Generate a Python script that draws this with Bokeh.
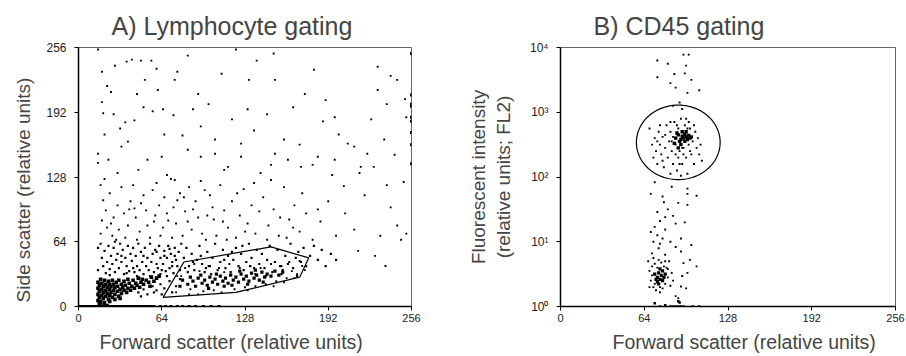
import numpy as np
from bokeh.plotting import figure
from bokeh.layouts import row
from bokeh.models import FixedTicker, Title, Range1d
from bokeh.embed import file_html
from bokeh.resources import INLINE

FONT = "Liberation Sans"

# ---------------- data: panel A (forward scatter, side scatter; 0-256 channels)
scatter_ticks = [0, 64, 128, 192, 256]

a_sparse_upper = [(15,254),(18,232),(22,218),(36,182),(37,242),(41,244),(48,243),(56,243),(51,224),(61,214),
    (74,224),(76,232),(92,210),(121,254),(131,224),(137,243),(151,224),(181,234),(190,204),(197,187),
    (230,237),(240,228),(245,224),(230,214),(237,200),(252,187),(251,205),(18,202),(19,191),(25,212),
    (32,176),(50,197),(57,193),(38,163),(43,184),(73,189),(80,169),(94,178),(105,165),(125,161),
    (135,174),(165,197),(174,210),(188,183),(212,158),(217,138),(222,151),(235,165),(15,151),(15,142),
    (23,145),(33,158),(30,132),(53,145),(64,148),(68,130),(74,125),(84,155),(94,148),(105,151),
    (115,138),(125,148),(140,132),(151,151),(161,145),(171,138),(184,148),(197,145),(207,161),(216,132),
    (204,119),(227,138),(237,120),(250,123),(28,238),(45,210),(66,170),(88,195),(110,230),(100,200),
    (118,185),(145,190),(158,165),(170,160),(200,170),(225,185),(243,150),(60,235),(84,248),(150,250),
    (180,140),(195,130),(112,135),(46,135),(20,170),(27,190),(65,195),(130,195),(148,140)]

a_middle = [(17,120),(19,105),(21,95),(24,112),(27,88),(30,100),(18,85),(22,78),(26,70),(33,118),
    (35,92),(38,80),(17,72),(29,66),(36,68),(40,104),(20,126),(31,76),(39,96),(25,82),
    (42,120),(44,88),(47,74),(50,110),(52,95),(55,68),(58,84),(60,122),(62,100),(65,78),
    (68,92),(45,66),(48,102),(53,80),(57,115),(63,70),(66,108),(69,85),(43,97),(59,90),
    (71,126),(73,98),(75,82),(78,112),(80,70),(82,94),(85,118),(87,76),(90,104),(92,88),
    (95,72),(97,115),(99,90),(72,68),(76,105),(84,84),(88,96),(94,124),(81,108),(98,66),
    (101,110),(104,86),(106,70),(109,120),(112,95),(115,78),(118,104),(121,68),(124,90),(127,116),
    (130,82),(133,100),(136,72),(139,94),(103,98),(114,66),(122,112),(128,74),(135,122),(111,84),
    (142,108),(146,80),(150,96),(154,70),(158,118),(162,86),(166,100),(170,74),(175,92),(180,66),
    (186,84),(192,104),(198,70),(148,125),(160,68),(172,112),(184,96),(155,88),(145,66),(165,78),
    (205,92),(212,76),(220,110),(232,70),(240,98),(248,66),(228,50),(236,40),(215,55),(245,80),(252,72)]

a_band = [(17,62),(18,48),(19,40),(20,55),(21,33),(22,44),(23,60),(24,37),(25,50),(26,42),
    (27,58),(28,34),(29,46),(30,52),(31,38),(32,62),(33,44),(34,56),(35,32),(36,48),
    (37,40),(38,60),(39,35),(40,52),(15,36),(15,58),(24,31),(28,64),(33,50),(37,33),
    (41,45),(42,58),(43,34),(44,50),(45,40),(46,62),(47,36),(48,54),(49,44),(50,32),
    (51,58),(52,40),(53,48),(54,36),(55,62),(56,44),(57,52),(58,34),(59,56),(60,42),
    (61,38),(62,60),(63,48),(64,36),(45,30),(50,50),(55,30),(60,54),(63,32),(42,38),
    (65,42),(66,55),(67,35),(68,48),(69,60),(70,38),(71,52),(72,44),(73,33),(74,58),
    (75,46),(76,40),(77,54),(78,36),(79,62),(66,50),(68,30),(70,57),(72,40),(74,50),
    (81,48),(83,58),(85,40),(87,52),(89,36),(91,46),(93,60),(95,42),(97,34),(99,54),
    (101,40),(103,48),(105,62),(107,36),(109,44),(111,56),(113,38),(115,50),(117,34),(119,46),
    (121,58),(123,40),(125,52),(127,36),(129,44),(131,62),(133,48),(135,38),(137,56),(139,42),
    (84,34),(94,50),(102,32),(112,46),(126,60),(136,32),(88,44),(118,54),(98,38),(132,40),
    (141,52),(143,38),(145,46),(147,60),(149,34),(151,44),(153,56),(155,40),(157,36),(159,50),
    (161,42),(163,62),(165,38),(167,48),(169,54),(171,44),(173,58),(175,40),(178,50),(181,60),
    (184,46),(187,56),(190,40),(194,52),(198,46),(144,30),(156,32),(168,30),
    (46,14),(50,17),(53,12),(57,20),(60,16),(63,22),(66,18),(70,25),(72,14),(75,20),
    (78,27),(48,10),(58,14),(64,12)]

a_debris_core = [(15,6),(15,12),(15,18),(15,24),(16,3),(16,9),(16,15),(16,21),(17,27),(17,5),
    (18,11),(18,17),(18,23),(19,8),(19,14),(19,20),(20,26),(20,4),(21,10),(21,16),
    (21,22),(22,13),(22,19),(23,7),(23,25),(24,11),(24,17),(24,22),(25,14),(25,20),
    (26,9),(26,26),(27,16),(27,22),(28,12),(28,19),(29,24),(30,15),(30,20),(31,10),
    (31,26),(32,17),(33,22),(33,13),(34,19),(35,16),(35,25),(36,21),(37,14),(38,18),
    (38,27),(39,23),(40,16),(41,20),(42,26),(43,18),(44,23),(45,21),(46,28),(47,19),
    (48,24),(49,27),(50,22),(52,26),(54,24),(56,29),(58,25),(60,28),(62,30),(55,20),
    (17,2),(20,1),(24,5),(28,7),(32,8),(22,1)]

a_lymph_core = [(84,22),(88,25),(90,20),(92,28),(95,23),(97,26),(99,21),(101,29),(103,24),(105,27),
    (107,22),(109,30),(111,25),(113,28),(115,23),(117,31),(119,26),(121,29),(123,24),(125,32),
    (127,27),(129,30),(131,25),(133,33),(135,28),(137,31),(139,26),(141,34),(143,29),(145,32),
    (148,30),(151,35),(154,31),(157,34),(94,31),(100,18),(106,32),(112,20),(118,21),(124,35),
    (130,22),(136,36),(142,24),(86,29),(80,26),(78,20)]

a_lymph_spread = [(75,14),(79,30),(82,38),(86,17),(89,42),(93,35),(96,15),(100,40),(104,16),(108,38),
    (112,34),(116,42),(120,17),(124,38),(128,19),(132,40),(136,20),(140,38),(144,22),(148,42),
    (152,25),(156,40),(160,28),(164,35),(168,32),(172,40),(162,44),(150,20),(158,24),(166,28),
    (170,45),(174,36),(76,30),(85,12),(110,14),(92,12),(130,16)]

a_floor_x = [0, 2, 4, 6, 8, 10, 12, 14, 16, 18, 20, 22, 24, 26, 28, 30, 32, 34, 36, 38, 40,
             42, 44, 46, 48, 50, 52, 54, 56, 58, 63, 67, 71, 76, 80, 85, 90, 96, 102, 108]
a_floor_y = [0] * len(a_floor_x)
a_edge_y = [250, 209, 198, 187, 183, 172, 141, 200, 160]
a_edge_x = [256] * len(a_edge_y)

lymph_gate_x = [65, 81, 148, 177, 170, 121, 65]
lymph_gate_y = [9, 44, 59, 48, 29, 14, 9]

# ---------------- data: panel B (forward scatter, log10 FL2 intensity)
b_cd45_core = [(88,2.6),(90,2.65),(92,2.58),(93,2.63),(94,2.6),(95,2.66),(96,2.62),(97,2.58),(98,2.64),(99,2.6),
    (91,2.55),(95,2.55),(100,2.62),(89,2.68),(93,2.7),(96,2.7),(92,2.5),(90,2.45),(87,2.52)]
b_cd45_spread = [(68,2.75),(70,2.5),(71,2.3),(72,2.6),(73,2.4),(74,2.2),(75,2.7),(76,2.5),(77,2.35),(78,2.62),
    (79,2.15),(80,2.45),(81,2.8),(82,2.3),(83,2.55),(84,2.7),(85,2.4),(86,2.2),(87,2.85),(88,2.35),
    (89,2.1),(90,2.75),(91,2.4),(92,2.9),(93,2.2),(94,2.45),(95,2.8),(96,2.3),(97,2.05),(98,2.5),
    (99,2.75),(100,2.35),(101,2.55),(102,2.2),(103,2.7),(104,2.45),(105,2.6),(106,2.35),(107,2.5),(108,2.25),
    (84,2.05),(92,2.02),(88,2.5),(86,2.62),(90,2.3),(94,2.35),(98,2.85),(80,2.65),(76,2.8),(102,2.8),
    (74,2.55),(78,2.25),(84,2.85),(96,2.9),(91,2.2),(85,2.55),(99,2.4),(93,2.45),(97,2.75),(89,2.8)]
b_top = [(74,3.8),(82,3.75),(94,3.89),(98,3.89),(96,3.72),(74,3.54),(87,3.59),(106,3.34),(97,3.3),(88,3.38),
    (91,3.15),(93,3.05),(86,3.1),(100,3.5),(84,3.45),(95,3.6)]
b_trail = [(69,1.74),(72,1.92),(79,1.61),(97,1.74),(104,1.71),(97,1.82),(74,1.46),(80,1.38),(97,1.57),(88,1.28),
    (69,1.15),(72,1.23),(80,1.19),(92,1.05),(88,0.92),(76,0.97),(75,0.9),(70,0.82),(99,0.72),(94,0.67),
    (97,0.52),(93,0.47),(92,0.31),(88,0.16),(90,0.13),(85,1.85),(78,1.7),(82,1.5),(76,1.32),(74,1.1),
    (86,1.4),(84,1.0),(78,1.05),(71,1.0),(90,1.6),(95,1.3),(92,0.85),(80,0.8),(100,0.95),(96,0.28),(104,0.62)]
b_low_core = [(72,0.5),(74,0.45),(75,0.52),(76,0.42),(77,0.48),(78,0.55),(79,0.45),(74,0.38),(76,0.58),(73,0.42),
    (78,0.4),(80,0.5),(75,0.35)]
b_low_spread = [(67,0.7),(68,0.55),(69,0.4),(70,0.62),(71,0.3),(72,0.66),(73,0.25),(74,0.6),(75,0.72),(76,0.3),
    (77,0.68),(78,0.28),(79,0.62),(80,0.35),(81,0.6),(82,0.45),(83,0.7),(84,0.32),(70,0.48),(72,0.35),
    (80,0.7),(68,0.3),(82,0.58),(76,0.22),(85,0.52),(71,0.75),(86,0.4)]
b_floor = [(76,0.0),(80,0.02),(84,0.0),(86,0),(88,0),(90,0),(92,0),(94,0),(101,0),(106,0),(72,0.05),(90,0.08),(91,0.06)]

log_ticks = [1, 10, 100, 1000, 10000]
log_tick_labels = ["10\u2070", "10\u00b9", "10\u00b2", "10\u00b3", "10\u2074"]

cd45_gate_center = (90, 2.535)   # forward scatter, log10 intensity
cd45_gate_radius = (32, 0.575)


def xy(pairs):
    a = np.array(pairs, dtype=float)
    return a[:, 0], a[:, 1]


def style_axes(p):
    for ax in (p.xaxis[0], p.yaxis[0]):
        ax.axis_line_color = "black"
        ax.axis_line_width = 1.5
        ax.major_tick_line_color = "black"
        ax.major_tick_out = 4
        ax.major_tick_in = 0
        ax.minor_tick_line_color = None
        ax.major_label_text_font = FONT
        ax.major_label_text_color = "#222222"
        ax.axis_label_text_font = FONT
        ax.axis_label_text_font_style = "normal"
        ax.axis_label_text_font_size = "19px"
    p.xaxis.major_label_text_font_size = "11px"
    p.yaxis.major_label_text_font_size = "12px"
    p.xaxis.major_label_standoff = 3
    p.yaxis.major_label_standoff = 8
    p.xgrid.grid_line_color = None
    p.ygrid.grid_line_color = None
    p.outline_line_color = "#666666"
    p.outline_line_width = 1
    p.background_fill_color = "white"
    p.border_fill_color = "white"


def add_title(p, text, offset):
    p.add_layout(Title(text=text, align="left", offset=offset, text_font=FONT,
                       text_font_size="25px", text_font_style="normal", standoff=16), "above")


def add_below_label(p, text, offset):
    p.add_layout(Title(text=text, align="left", offset=offset, text_font=FONT,
                       text_font_size="19.5px", text_font_style="normal", standoff=8), "below")


def dots(p, pairs, size):
    x, y = xy(pairs)
    p.scatter(x, y, marker="square", size=size, fill_color="black", line_color=None)


# ---------------- panel A
pA = figure(width=450, height=356, output_backend="svg", toolbar_location=None,
            x_range=Range1d(0, 256), y_range=Range1d(0, 256),
            min_border_left=77, min_border_right=39, min_border_top=47, min_border_bottom=49)
style_axes(pA)
pA.xaxis.ticker = FixedTicker(ticks=scatter_ticks)
pA.yaxis.ticker = FixedTicker(ticks=scatter_ticks)
add_title(pA, "A) Lymphocyte gating", 33)
add_below_label(pA, "Forward scatter (relative units)", 21)
pA.add_layout(Title(text="Side scatter (relative units)", align="left", offset=4, text_font=FONT,
                    text_font_size="19px", text_font_style="normal", standoff=20), "left")

for grp in (a_sparse_upper, a_middle, a_lymph_spread):
    dots(pA, grp, 1.9)
dots(pA, a_band, 2.2)
dots(pA, a_debris_core, 3.6)
dots(pA, a_lymph_core, 3.2)
pA.scatter(a_floor_x, a_floor_y, marker="square", size=3, fill_color="black", line_color=None)
pA.scatter(a_edge_x, a_edge_y, marker="square", size=3, fill_color="black", line_color=None)
pA.line(lymph_gate_x, lymph_gate_y, line_color="black", line_width=1.2)

# ---------------- panel B
pB = figure(width=456, height=356, output_backend="svg", toolbar_location=None,
            x_range=Range1d(0, 256), y_range=Range1d(1, 10000), y_axis_type="log",
            min_border_left=110, min_border_right=11, min_border_top=47, min_border_bottom=49)
style_axes(pB)
pB.xaxis.ticker = FixedTicker(ticks=scatter_ticks)
pB.yaxis.ticker = FixedTicker(ticks=log_ticks)
pB.yaxis.major_label_overrides = {t: l for t, l in zip(log_ticks, log_tick_labels)}
pB.yaxis.axis_label = "Fluorescent intensity\n(relative units; FL2)"
pB.yaxis.axis_label_standoff = 13
add_title(pB, "B) CD45 gating", 33)
add_below_label(pB, "Forward scatter (relative units)", 52)

for grp, size in ((b_cd45_spread, 1.9), (b_top, 1.9), (b_trail, 1.9), (b_low_spread, 1.9),
                  (b_cd45_core, 3.4), (b_low_core, 3.2)):
    x, lg = xy(grp)
    pB.scatter(x, 10 ** lg, marker="square", size=size, fill_color="black", line_color=None)
fx, flg = xy(b_floor)
pB.scatter(fx, 10 ** flg, marker="square", size=2.5, fill_color="black", line_color=None)

t = np.linspace(0, 2 * np.pi, 181)
gx = cd45_gate_center[0] + cd45_gate_radius[0] * np.cos(t)
gy = 10 ** (cd45_gate_center[1] + cd45_gate_radius[1] * np.sin(t))
pB.line(gx, gy, line_color="black", line_width=1.2)

layout = row(pA, pB)
open("out.html", "w").write(file_html(layout, INLINE))
